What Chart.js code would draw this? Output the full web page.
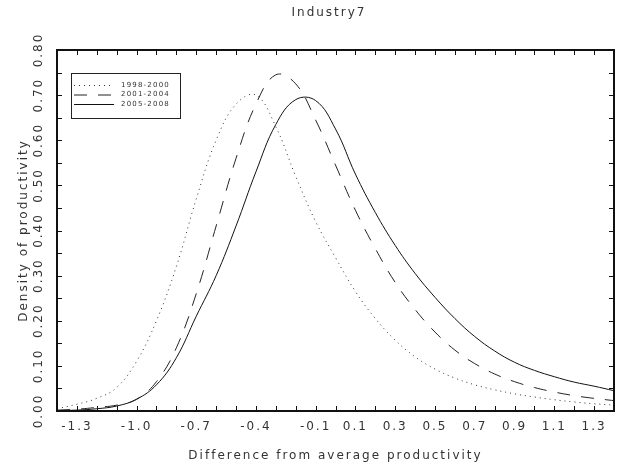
<!DOCTYPE html>
<html>
<head>
<meta charset="utf-8">
<script src="https://cdn.jsdelivr.net/npm/chart.js@4.4.1/dist/chart.umd.min.js"></script>
<style>
  html, body { margin: 0; padding: 0; background: #fff; }
  #wrap { width: 623px; height: 470px; }
</style>
</head>
<body>
<div id="wrap"><canvas id="density-chart"></canvas></div>
<script>
const xValues = [-1.4, -1.3, -1.2, -1.1, -1.0, -0.9, -0.8, -0.7, -0.6, -0.5, -0.4, -0.3, -0.2, -0.1, 0.0,
  0.1, 0.2, 0.3, 0.4, 0.5, 0.6, 0.7, 0.8, 0.9, 1.0, 1.1, 1.2, 1.3, 1.4];
const density9800 = [0.005, 0.015, 0.028, 0.052, 0.11, 0.20, 0.32, 0.47, 0.60, 0.68, 0.70, 0.63, 0.52, 0.42, 0.34,
  0.265, 0.205, 0.157, 0.12, 0.093, 0.073, 0.058, 0.047, 0.038, 0.031, 0.025, 0.02, 0.016, 0.013];
const density0104 = [0.002, 0.004, 0.008, 0.013, 0.026, 0.065, 0.14, 0.26, 0.41, 0.56, 0.68, 0.745, 0.725, 0.645, 0.545,
  0.445, 0.36, 0.285, 0.225, 0.175, 0.135, 0.105, 0.082, 0.065, 0.052, 0.042, 0.034, 0.028, 0.023];
const density0508 = [0.001, 0.002, 0.005, 0.011, 0.026, 0.058, 0.118, 0.21, 0.30, 0.41, 0.53, 0.635, 0.69, 0.688, 0.625,
  0.525, 0.44, 0.367, 0.305, 0.252, 0.205, 0.165, 0.133, 0.108, 0.09, 0.076, 0.064, 0.055, 0.045];
const seriesLabels = ['1998-2000', '2001-2004', '2005-2008'];
const xTickLabels = ['-1.3', '-1.0', '-0.7', '-0.4', '-0.1', '0.1', '0.3', '0.5', '0.7', '0.9', '1.1', '1.3'];
const yTickLabels = ['0.00', '0.10', '0.20', '0.30', '0.40', '0.50', '0.60', '0.70', '0.80'];

const toPoints = (ys) => xValues.map((x, i) => ({x: x, y: ys[i]}));
const textColor = '#333';
const font = 'DejaVu Sans';

// frame, inward ticks, rotated y labels, title and boxed legend
const framePlugin = {
  id: 'frame',
  beforeDraw(chart) {
    chart.ctx.letterSpacing = '2px';
  },
  afterDraw(chart) {
    const {ctx, chartArea: a, scales: {x, y}} = chart;
    ctx.save();
    ctx.strokeStyle = '#111';
    ctx.lineWidth = 1;
    ctx.beginPath();
    x.ticks.forEach(t => {
      const px = Math.round(x.getPixelForValue(t.value)) + 0.5;
      ctx.moveTo(px, a.bottom); ctx.lineTo(px, a.bottom - 5);
      ctx.moveTo(px, a.top); ctx.lineTo(px, a.top + 5);
    });
    y.ticks.forEach(t => {
      const py = Math.round(y.getPixelForValue(t.value)) + 0.5;
      ctx.moveTo(a.left, py); ctx.lineTo(a.left + 5, py);
      ctx.moveTo(a.right, py); ctx.lineTo(a.right - 5, py);
    });
    ctx.stroke();
    ctx.lineWidth = 2;
    ctx.strokeRect(a.left, a.top, a.right - a.left, a.bottom - a.top);

    ctx.fillStyle = textColor;
    ctx.font = '12px ' + font;
    ctx.letterSpacing = '2px';
    ctx.textAlign = 'center';
    ctx.textBaseline = 'middle';
    yTickLabels.forEach(lbl => {
      const py = y.getPixelForValue(parseFloat(lbl));
      ctx.save();
      ctx.translate(39, py);
      ctx.rotate(-Math.PI / 2);
      ctx.fillText(lbl, 0, 0);
      ctx.restore();
    });
    ctx.font = '12px ' + font;
    ctx.fillText('Industry7', 329, 13);

    // legend
    ctx.lineWidth = 1;
    ctx.strokeStyle = '#222';
    ctx.strokeRect(71.5, 73.5, 109, 45);
    ctx.font = '7px ' + font;
    ctx.letterSpacing = '1.2px';
    ctx.textAlign = 'left';
    chart.data.datasets.forEach((ds, i) => {
      const ly = 85 + i * 9.5;
      ctx.save();
      ctx.strokeStyle = ds.borderColor;
      ctx.setLineDash(ds.borderDash || []);
      ctx.beginPath();
      ctx.moveTo(74, ly + 0.5); ctx.lineTo(114, ly + 0.5);
      ctx.stroke();
      ctx.restore();
      ctx.fillText(ds.label, 121, ly);
    });
    ctx.restore();
  }
};

const densityChart = new Chart(document.getElementById('density-chart'), {
  type: 'line',
  data: {
    datasets: [{
      label: seriesLabels[0],
      data: toPoints(density9800),
      borderColor: '#333',
      borderDash: [1, 4],
    }, {
      label: seriesLabels[1],
      data: toPoints(density0104),
      borderColor: '#222',
      borderDash: [13, 11],
    }, {
      label: seriesLabels[2],
      data: toPoints(density0508),
      borderColor: '#111',
    }]
  },
  options: {
    responsive: true,
    maintainAspectRatio: false,
    animation: false,
    layout: { padding: { top: 50, right: 1, left: 0, bottom: 0 } },
    elements: {
      point: { radius: 0 },
      line: { borderWidth: 1, tension: 0.4 }
    },
    scales: {
      x: {
        type: 'linear',
        min: -1.4,
        max: 1.4,
        grid: { display: false, drawTicks: false },
        border: { display: false },
        ticks: {
          stepSize: 0.1,
          autoSkip: false,
          maxRotation: 0,
          padding: 9,
          color: textColor,
          font: { family: font, size: 12 },
          callback: (v) => {
            const s = Number(v).toFixed(1);
            return xTickLabels.includes(s) ? s : '';
          }
        },
        title: {
          display: true,
          text: 'Difference from average productivity',
          color: textColor,
          font: { family: font, size: 12 },
          padding: { top: 0, bottom: 7 }
        },
        afterFit: (scale) => { scale.height = 59; }
      },
      y: {
        min: 0,
        max: 0.8,
        grid: { display: false, drawTicks: false },
        border: { display: false },
        ticks: { stepSize: 0.05, display: false },
        title: {
          display: true,
          text: 'Density of productivity',
          color: textColor,
          font: { family: font, size: 12 },
          padding: { top: 17, bottom: 0 }
        },
        afterFit: (scale) => { scale.width = 57; }
      }
    },
    plugins: {
      legend: { display: false },
      tooltip: { enabled: false }
    }
  },
  plugins: [framePlugin]
});
</script>
</body>
</html>
